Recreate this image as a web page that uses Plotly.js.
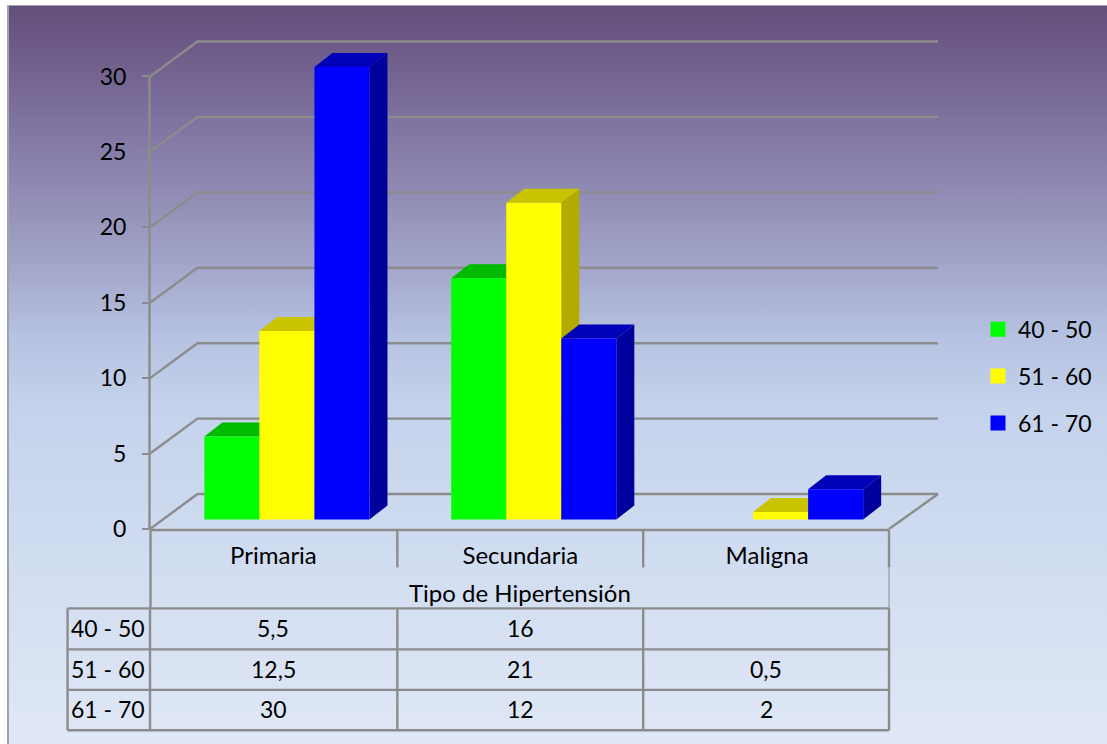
<!DOCTYPE html>
<html>
<head>
<meta charset="utf-8">
<script src="https://cdn.plot.ly/plotly-3.0.1.min.js"></script>
<style>
  html, body { margin: 0; padding: 0; background: #fff; width: 1107px; height: 744px; overflow: hidden; }
  #backdrop {
    position: absolute; left: 7px; top: 5px; right: 0; bottom: 0;
    border-left: 2px solid #a3a3a8; border-top: 1px solid #a3a3a8;
    background: linear-gradient(to bottom, #644e7c 0, #7a6c99 95px, #a0a2c7 250px, #b6c2e1 330px,
                                #c4d2ec 400px, #d0dcf0 550px, #e0e8f6 739px);
  }
  #chart { position: absolute; left: 0; top: 0; width: 1107px; height: 744px; }
</style>
</head>
<body>
<div id="backdrop"></div>
<div id="chart"></div>
<script>
// Hypertension types by age group
const categories = ['Primaria', 'Secundaria', 'Maligna'];
const seriesNames = ['40 - 50', '51 - 60', '61 - 70'];
const ages40to50 = [5.5, 16, null];
const ages51to60 = [12.5, 21, 0.5];
const ages61to70 = [30, 12, 2];
const yTicks = [0, 5, 10, 15, 20, 25, 30];
const axisTitle = 'Tipo de Hipertensión';

const seriesValues = [ages40to50, ages51to60, ages61to70];
const frontColors = ['#00ff00', '#ffff00', '#0000ff'];
const sideColors = ['#009800', '#b3ab00', '#00009c'];
const topColors = ['#00bb00', '#c9c300', '#0000b8'];

// Plot box in page pixels, and the scale of one axis unit
const W = 1107, H = 744;
const box = { left: 149.5, right: 945, top: 30, bottom: 529.5 };
const pxPerCat = 247, pxPerVal = 15.1;
const ux = px => px / pxPerCat;
const uy = px => px / pxPerVal;
const xMax = ux(box.right - box.left), yMax = uy(box.bottom - box.top);
const paperX = px => (px - box.left) / (box.right - box.left);
const paperY = px => (box.bottom - px) / (box.bottom - box.top);

// Oblique projection: wall depth, bar plane offset and bar depth
const wallDx = ux(47.5), wallDy = uy(35);
const floorEnd = ux(739.5);
const backEnd = ux(788.5);
const planeDx = ux(13.5), planeDy = uy(9.5);
const barDx = ux(18), barDy = uy(14);
const barGap = 0.331;
const barW = (1 - barGap) / 3;

const GRAY = '#8c8c8c';
const FONT = 'Lato, sans-serif';
const traces = [];

// Back wall gridlines and the left wall diagonals
const gridX = [], gridY = [];
yTicks.forEach(v => {
  gridX.push(0, wallDx, backEnd, null);
  gridY.push(v, v + wallDy, v + wallDy, null);
});
gridX.push(floorEnd, backEnd, null);
gridY.push(0, wallDy, null);
traces.push({ x: gridX, y: gridY, mode: 'lines', line: { color: GRAY, width: 2.4 },
  hoverinfo: 'skip', showlegend: false });

// Side and top faces, painted left to right behind every front face
seriesValues.forEach((values, s) => {
  const sideX = [], sideY = [], topX = [], topY = [];
  values.forEach((v, c) => {
    if (v === null) return;
    const left = c + 0.5 + planeDx + (s - 1.5) * barW;
    const right = left + barW;
    const low = planeDy, high = planeDy + v;
    sideX.push(right, right + barDx, right + barDx, right, right, null);
    sideY.push(low, low + barDy, high + barDy, high, low, null);
    topX.push(left, right, right + barDx, left + barDx, left, null);
    topY.push(high, high, high + barDy, high + barDy, high, null);
  });
  traces.push({ x: sideX, y: sideY, mode: 'lines', fill: 'toself', fillcolor: sideColors[s],
    line: { width: 0 }, hoverinfo: 'skip', showlegend: false });
  traces.push({ x: topX, y: topY, mode: 'lines', fill: 'toself', fillcolor: topColors[s],
    line: { width: 0 }, hoverinfo: 'skip', showlegend: false });
});

// Front faces on the overlaying axes
seriesValues.forEach((values, s) => {
  traces.push({
    type: 'bar', name: seriesNames[s], xaxis: 'x2', yaxis: 'y2',
    x: categories.map((_, c) => c + 0.5 + planeDx),
    y: values,
    base: values.map(() => planeDy),
    marker: { color: frontColors[s], line: { width: 0 } },
    showlegend: false
  });
});

// Legend keys
seriesNames.forEach((name, s) => {
  traces.push({ x: [null], y: [null], mode: 'markers', name: name, legendgroup: name,
    marker: { symbol: 'square', size: 15, color: frontColors[s] }, hoverinfo: 'skip' });
});

// Rules: axis lines, dividers and the data table grid, all in page pixels
const colEdges = [67, 149.5, 397, 643, 889];
const rowEdges = [609, 650, 690.5, 731];
const rule = (x0, y0, x1, y1, width) => ({
  type: 'line', xref: 'paper', yref: 'paper', layer: 'above',
  x0: paperX(x0), x1: paperX(x1), y0: paperY(y0), y1: paperY(y1),
  line: { color: GRAY, width: width || 2.4 }
});
const shapes = [
  rule(149, 76, 149, 530),
  rule(150, 530.5, 889, 530.5, 2.6),
  rule(150, 530, 150, 609),
  rule(397, 530, 397, 568),
  rule(643, 530, 643, 568),
  rule(889, 530, 889, 568),
  rule(889, 568, 889, 609, 1)
];
rowEdges.forEach(y => shapes.push(rule(colEdges[0], y, colEdges[4], y)));
colEdges.forEach(x => shapes.push(rule(x, rowEdges[0], x, rowEdges[3])));

// Table text and the axis title, centred on the three categories
const fmt = v => v === null ? '' : String(v).replace('.', ',');
const rowCenters = [629, 669.5, 710];
const annotations = [];
const cellText = (x, y, text, size) => annotations.push({
  x: paperX(x), xref: 'paper', y: paperY(y), yref: 'paper', text: text, showarrow: false,
  xanchor: 'center', yanchor: 'middle', font: { family: FONT, size: size || 23, color: '#000' }
});
const colCenters = [273, 520, 766];
seriesValues.forEach((values, s) => {
  cellText(107, rowCenters[s], seriesNames[s]);
  values.forEach((v, c) => { if (v !== null) cellText(colCenters[c], rowCenters[s], fmt(v)); });
});
cellText(519.5, 593, axisTitle, 24);

const layout = {
  width: W, height: H,
  margin: { l: box.left, r: W - box.right, t: box.top, b: H - box.bottom, pad: 0, autoexpand: false },
  paper_bgcolor: 'rgba(0,0,0,0)',
  plot_bgcolor: 'rgba(0,0,0,0)',
  font: { family: FONT, size: 23, color: '#000' },
  barmode: 'group', bargap: barGap, bargroupgap: 0,
  xaxis: {
    range: [0, xMax], fixedrange: true, showgrid: false, zeroline: false, showline: false,
    tickmode: 'array', tickvals: categories.map((_, c) => c + 0.5), ticktext: categories,
    ticks: '', ticklabelstandoff: 10, tickfont: { family: FONT, size: 24, color: '#000' }
  },
  yaxis: {
    range: [0, yMax], fixedrange: true, showgrid: false, zeroline: false, showline: false,
    tickmode: 'array', tickvals: yTicks, ticks: 'outside', ticklen: 7, tickwidth: 2, tickcolor: GRAY,
    ticklabelstandoff: 11, tickfont: { family: FONT, size: 23, color: '#000' }
  },
  xaxis2: { overlaying: 'x', range: [0, xMax], visible: false, fixedrange: true },
  yaxis2: { overlaying: 'y', range: [0, yMax], visible: false, fixedrange: true },
  shapes: shapes,
  annotations: annotations,
  showlegend: true,
  legend: {
    x: paperX(985), xanchor: 'left',
    y: paperY(308), yanchor: 'top',
    bgcolor: 'rgba(0,0,0,0)', borderwidth: 0,
    font: { family: FONT, size: 23, color: '#000' },
    traceorder: 'grouped', tracegroupgap: 14, itemwidth: 30, indentation: -7
  }
};

Plotly.newPlot('chart', traces, layout, { displayModeBar: false, staticPlot: true });
</script>
</body>
</html>
